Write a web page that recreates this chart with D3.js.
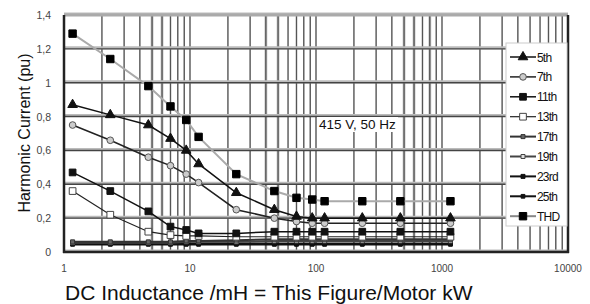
<!DOCTYPE html>
<html>
<head>
<meta charset="utf-8">
<script src="https://cdn.jsdelivr.net/npm/d3@7"></script>
<style>
  body { margin: 0; background: #fff; }
  svg { display: block; font-family: "Liberation Sans", Arial, sans-serif; }
</style>
</head>
<body>
<svg id="chart"></svg>
<script>
// data
const inductance = [1.17, 2.33, 4.67, 7, 9.33, 11.7, 23.3, 46.7, 70, 93.3, 117, 233, 467, 1167];
const h5  = [0.87, 0.81, 0.75, 0.67, 0.60, 0.52, 0.35, 0.25, 0.21, 0.20, 0.20, 0.20, 0.20, 0.20];
const h7  = [0.75, 0.66, 0.56, 0.51, 0.46, 0.41, 0.25, 0.20, 0.18, 0.17, 0.17, 0.17, 0.17, 0.17];
const h11 = [0.47, 0.36, 0.24, 0.15, 0.13, 0.11, 0.11, 0.12, 0.12, 0.12, 0.12, 0.12, 0.12, 0.12];
const h13 = [0.36, 0.22, 0.12, 0.10, 0.095, 0.095, 0.09, 0.09, 0.09, 0.09, 0.09, 0.09, 0.09, 0.09];
const h17 = [0.06, 0.06, 0.06, 0.06, 0.065, 0.065, 0.07, 0.075, 0.075, 0.075, 0.075, 0.075, 0.075, 0.075];
const h19 = [0.055, 0.055, 0.055, 0.055, 0.06, 0.06, 0.06, 0.065, 0.065, 0.065, 0.065, 0.065, 0.065, 0.065];
const h23 = [0.05, 0.05, 0.05, 0.05, 0.05, 0.05, 0.05, 0.05, 0.05, 0.05, 0.05, 0.05, 0.05, 0.05];
const h25 = [0.045, 0.045, 0.045, 0.045, 0.045, 0.045, 0.045, 0.045, 0.045, 0.045, 0.045, 0.045, 0.045, 0.045];
const thd = [1.29, 1.14, 0.98, 0.86, 0.78, 0.68, 0.46, 0.36, 0.32, 0.31, 0.30, 0.30, 0.30, 0.30];

const seriesNames = ["5th", "7th", "11th", "13th", "17th", "19th", "23rd", "25th", "THD"];
const xTicks = [1, 10, 100, 1000, 10000];
const yTicks = [0, 0.2, 0.4, 0.6, 0.8, 1, 1.2, 1.4];

const width = 590, height = 304;
const svg = d3.select("#chart").attr("width", width).attr("height", height);

const x = d3.scaleLog().domain([1, 10000]).range([64, 568]);
const y = d3.scaleLinear().domain([0, 1.4]).range([252, 15]);

// styling per series
const styles = {
  "5th":  { values: h5,  line: "#111", lw: 1.5, shape: d3.symbolTriangle, size: 40, fill: "#111", stroke: "#111" },
  "7th":  { values: h7,  line: "#222", lw: 1.5, shape: d3.symbolCircle,   size: 35, fill: "#ccc", stroke: "#555" },
  "11th": { values: h11, line: "#111", lw: 1.5, shape: d3.symbolSquare,   size: 45, fill: "#111", stroke: "#111" },
  "13th": { values: h13, line: "#222", lw: 1.2, shape: d3.symbolSquare,   size: 45, fill: "#fff", stroke: "#444" },
  "17th": { values: h17, line: "#333", lw: 2,   shape: d3.symbolSquare,   size: 16, fill: "#666", stroke: "#333" },
  "19th": { values: h19, line: "#444", lw: 2,   shape: d3.symbolSquare,   size: 16, fill: "#ddd", stroke: "#444" },
  "23rd": { values: h23, line: "#111", lw: 2,   shape: d3.symbolSquare,   size: 16, fill: "#111", stroke: "#111" },
  "25th": { values: h25, line: "#111", lw: 2,   shape: d3.symbolSquare,   size: 14, fill: "#111", stroke: "#111" },
  "THD":  { values: thd, line: "#aaa", lw: 2,   shape: d3.symbolSquare,   size: 55, fill: "#000", stroke: "#000" }
};

//// GRID
const grid = svg.append("g");
// minor vertical lines for every log step
let vlines = [];
[1, 10, 100, 1000].forEach(dec => {
  for (let k = 1; k <= 9; k++) vlines.push(dec * k);
});
vlines.push(10000);

// light grey bands near some minor lines (scan artefacts of the original)
const bandVals = [5, 6, 40, 50, 500, 600, 800];
grid.selectAll(".band").data(bandVals).enter().append("line")
  .attr("x1", d => x(d)).attr("x2", d => x(d))
  .attr("y1", y(1.4)).attr("y2", y(0))
  .style("stroke", "#ccc").style("stroke-width", 3);

grid.selectAll(".vl").data(vlines).enter().append("line")
  .attr("x1", d => x(d)).attr("x2", d => x(d))
  .attr("y1", y(1.4)).attr("y2", y(0))
  .style("stroke", "#555").style("stroke-width", 1.4);

grid.selectAll(".hband").data(yTicks).enter().append("line")
  .attr("x1", x(1)).attr("x2", x(10000))
  .attr("y1", d => y(d) - 1).attr("y2", d => y(d) - 1)
  .style("stroke", "#bbb").style("stroke-width", 3);
grid.selectAll(".hl").data(yTicks).enter().append("line")
  .attr("x1", x(1)).attr("x2", x(10000))
  .attr("y1", d => y(d)).attr("y2", d => y(d))
  .style("stroke", "#444").style("stroke-width", 1.4);

// frame
svg.append("line").attr("x1", x(1)).attr("x2", x(10000)).attr("y1", y(1.4)).attr("y2", y(1.4))
  .style("stroke", "#aaa").style("stroke-width", 3);
svg.append("line").attr("x1", x(1)).attr("x2", x(1)).attr("y1", y(1.4)).attr("y2", y(0) + 1)
  .style("stroke", "#222").style("stroke-width", 2.5);
svg.append("line").attr("x1", x(10000)).attr("x2", x(10000)).attr("y1", y(1.4)).attr("y2", y(0) + 1)
  .style("stroke", "#222").style("stroke-width", 2.5);
svg.append("line").attr("x1", x(1) - 1).attr("x2", x(10000) + 1).attr("y1", y(0)).attr("y2", y(0))
  .style("stroke", "#222").style("stroke-width", 2.5);

//// AXES LABELS
svg.append("g").selectAll("text").data(yTicks).enter().append("text")
  .attr("x", 51).attr("y", d => y(d) + 4)
  .attr("text-anchor", "end")
  .style("font-size", "10.5px").style("fill", "#444")
  .text(d => d === 0 ? "0" : (d === 1 ? "1" : d3.format(".1f")(d).replace(".", ",")));

svg.append("g").selectAll("text").data(xTicks).enter().append("text")
  .attr("x", d => x(d)).attr("y", 272)
  .attr("text-anchor", "middle")
  .style("font-size", "10px").style("fill", "#444")
  .text(d => d);

svg.append("text")
  .attr("transform", "translate(30,133) rotate(-90)")
  .attr("text-anchor", "middle")
  .style("font-size", "16px").style("fill", "#111")
  .text("Harmonic Current (pu)");

svg.append("text")
  .attr("x", 65).attr("y", 300)
  .style("font-size", "21px").style("fill", "#111")
  .text("DC Inductance /mH = This Figure/Motor kW");

// annotation, on a white patch
const annBg = svg.append("rect").style("fill", "#fff");
const ann = svg.append("text")
  .attr("x", 319).attr("y", 129)
  .style("font-size", "13.5px").style("fill", "#111")
  .text("415 V, 50 Hz");
const bb = ann.node().getBBox();
annBg.attr("x", bb.x - 2).attr("y", bb.y).attr("width", bb.width + 4).attr("height", bb.height);

//// SERIES
const line = d3.line().x((d, i) => x(inductance[i])).y(d => y(d));
const drawOrder = ["25th", "23rd", "19th", "17th", "13th", "11th", "7th", "5th", "THD"];
drawOrder.forEach(name => {
  const s = styles[name];
  const g = svg.append("g");
  g.append("path").datum(s.values)
    .attr("d", line)
    .style("fill", "none").style("stroke", s.line).style("stroke-width", s.lw);
  g.selectAll("path.m").data(s.values).enter().append("path")
    .attr("class", "m")
    .attr("d", d3.symbol().type(s.shape).size(s.size))
    .attr("transform", (d, i) => `translate(${x(inductance[i])},${y(d)})`)
    .style("fill", s.fill).style("stroke", s.stroke).style("stroke-width", 1);
});

//// LEGEND
const legend = svg.append("g");
legend.append("rect")
  .attr("x", 506).attr("y", 43).attr("width", 61).attr("height", 183)
  .style("fill", "#fff").style("stroke", "#ccc").style("stroke-width", 1);
seriesNames.forEach((name, i) => {
  const s = styles[name];
  const ly = 57 + i * 19.9;
  legend.append("line").attr("x1", 510).attr("x2", 536).attr("y1", ly).attr("y2", ly)
    .style("stroke", name === "THD" ? "#888" : s.line).style("stroke-width", s.lw);
  legend.append("path")
    .attr("d", d3.symbol().type(s.shape).size(s.size))
    .attr("transform", `translate(523,${ly})`)
    .style("fill", s.fill).style("stroke", s.stroke).style("stroke-width", 1);
  legend.append("text").attr("x", 537).attr("y", ly + 4.5)
    .style("font-size", "12px").style("fill", "#111").style("letter-spacing", "-0.8px")
    .text(name);
});
</script>
</body>
</html>
